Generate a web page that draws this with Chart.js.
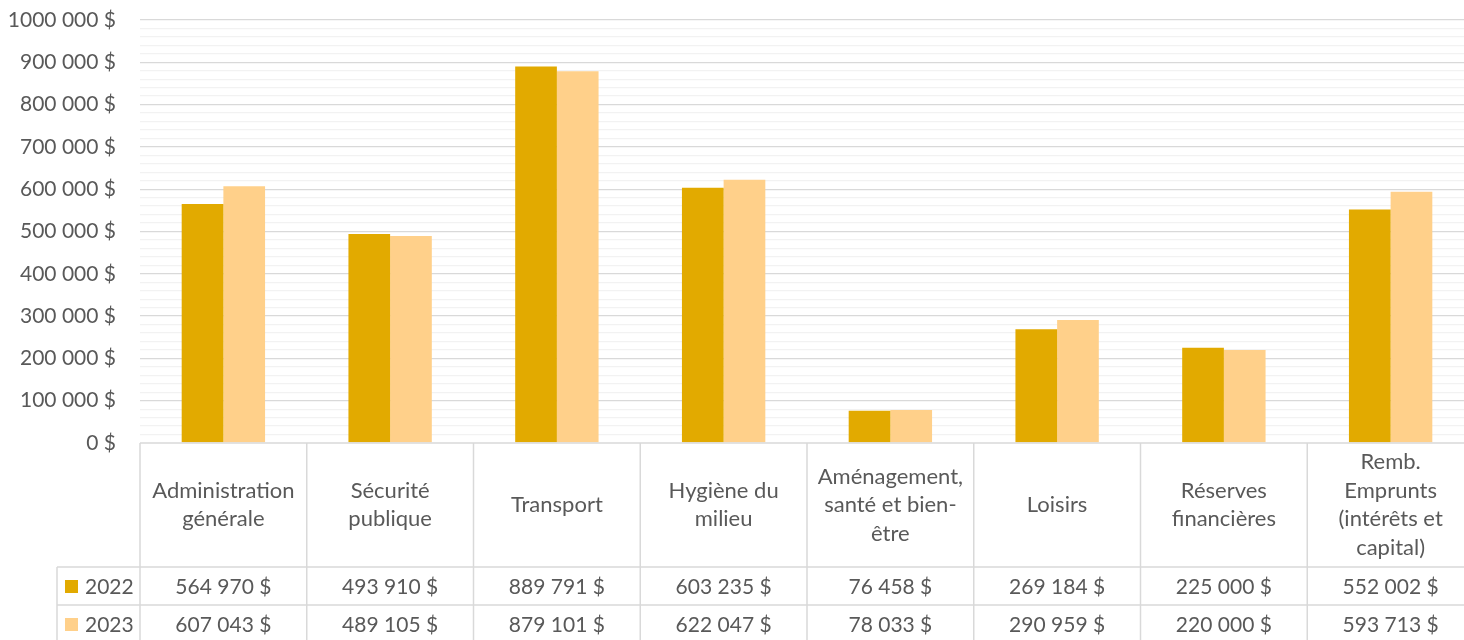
<!DOCTYPE html>
<html>
<head>
<meta charset="utf-8">
<script src="https://cdn.jsdelivr.net/npm/chart.js@4/dist/chart.umd.min.js"></script>
<style>
html,body{margin:0;padding:0;overflow:hidden;background:#fff;}
#wrap{width:1480px;height:650px;}
</style>
</head>
<body>
<div id="wrap"><canvas id="c" width="1480" height="650"></canvas></div>
<script>
const categoryLines = [
  ['Administration','générale'],
  ['Sécurité','publique'],
  ['Transport'],
  ['Hygiène du','milieu'],
  ['Aménagement,','santé et bien-','être'],
  ['Loisirs'],
  ['Réserves','financières'],
  ['Remb.','Emprunts','(intérêts et','capital)']
];
const categories = categoryLines.map(l => l.join(' '));
const seriesNames = ['2022','2023'];
const values2022 = [564970,493910,889791,603235,76458,269184,225000,552002];
const values2023 = [607043,489105,879101,622047,78033,290959,220000,593713];
const yTickValues = [0,100000,200000,300000,400000,500000,600000,700000,800000,900000,1000000];
const yTickLabels = ['0 $','100 000 $','200 000 $','300 000 $','400 000 $','500 000 $','600 000 $','700 000 $','800 000 $','900 000 $','1000 000 $'];

const COL22 = '#E2AA00';
const COL23 = '#FFD08A';
const TXT = '#595959';
const FONT = 'Lato';
const FS = 21;

function fmt(v){
  return String(v).replace(/\B(?=(\d{3})+(?!\d))/g,' ') + ' $';
}

const tablePlugin = {
  id:'dataTable',
  afterDraw(chart){
    const ctx = chart.ctx;
    const xs = chart.scales.x;
    const ca = chart.chartArea;
    const n = categories.length;
    const w = xs.getPixelForValue(1) - xs.getPixelForValue(0);
    const top = ca.bottom;
    const hdrBottom = 567, r1Bottom = 605, r2Bottom = 643;
    const legLeft = 57;
    const right = xs.getPixelForValue(n-1) + w/2;
    ctx.save();
    ctx.strokeStyle = '#D9D9D9';
    ctx.lineWidth = 1.5;
    ctx.beginPath();
    ctx.moveTo(ca.left, top); ctx.lineTo(right, top);
    [hdrBottom, r1Bottom, r2Bottom].forEach(y=>{ctx.moveTo(legLeft,y);ctx.lineTo(right,y);});
    for(let i=0;i<=n;i++){
      const x = xs.getPixelForValue(0) - w/2 + i*w;
      ctx.moveTo(x, top); ctx.lineTo(x, 650);
    }
    ctx.moveTo(legLeft, hdrBottom); ctx.lineTo(legLeft, 650);
    ctx.stroke();

    ctx.fillStyle = TXT;
    ctx.textAlign = 'center';
    ctx.textBaseline = 'middle';
    const lh = 28.5;
    const hc = (top + hdrBottom)/2;
    ctx.font = (FS+1) + 'px ' + FONT;
    categoryLines.forEach((lines,i)=>{
      const x = xs.getPixelForValue(i);
      const y0 = hc - (lines.length-1)*lh/2;
      lines.forEach((t,j)=>ctx.fillText(t, x, y0 + j*lh));
    });
    ctx.font = FS + 'px ' + FONT;
    const rowY = [(hdrBottom+r1Bottom)/2, (r1Bottom+r2Bottom)/2];
    [values2022, values2023].forEach((vals,r)=>{
      vals.forEach((v,i)=>ctx.fillText(fmt(v), xs.getPixelForValue(i), rowY[r]+1));
    });
    [COL22, COL23].forEach((c,r)=>{
      ctx.fillStyle = c;
      ctx.fillRect(65, rowY[r]-6, 13, 13);
      ctx.fillStyle = TXT;
      ctx.textAlign = 'left';
      ctx.fillText(seriesNames[r], 85, rowY[r]+1);
    });
    ctx.restore();
  }
};

new Chart(document.getElementById('c'), {
  type:'bar',
  data:{
    labels: categories,
    datasets:[
      {label:seriesNames[0], data:values2022, backgroundColor:COL22, borderWidth:0},
      {label:seriesNames[1], data:values2023, backgroundColor:COL23, borderWidth:0}
    ]
  },
  options:{
    responsive:false,
    animation:false,
    devicePixelRatio:1,
    layout:{padding:{top:20,right:6,left:0,bottom:0}},
    plugins:{legend:{display:false}, tooltip:{enabled:false}},
    datasets:{bar:{categoryPercentage:0.5, barPercentage:1}},
    scales:{
      x:{
        grid:{display:false},
        border:{display:false},
        ticks:{display:false},
        afterFit(s){ s.height = 207; }
      },
      y:{
        min:0, max:1000000,
        afterBuildTicks(s){
          const t=[]; for(let v=0; v<=1000000; v+=20000) t.push({value:v});
          s.ticks = t;
        },
        afterFit(s){ s.width = 140; s.paddingTop = 0; s.paddingBottom = 0; },
        border:{display:false},
        grid:{
          drawTicks:false,
          lineWidth:1.3,
          color(c){
            const v = c.tick ? c.tick.value : 0;
            if (v === 0) return 'rgba(0,0,0,0)';
            return (v % 100000 === 0) ? '#D9D9D9' : '#F2F2F2';
          }
        },
        ticks:{
          autoSkip:false,
          padding:24,
          color:TXT,
          font:{family:FONT, size:FS},
          callback(v){
            const k = yTickValues.indexOf(v);
            return k >= 0 ? yTickLabels[k] : '';
          }
        }
      }
    }
  },
  plugins:[tablePlugin]
});
</script>
</body>
</html>
